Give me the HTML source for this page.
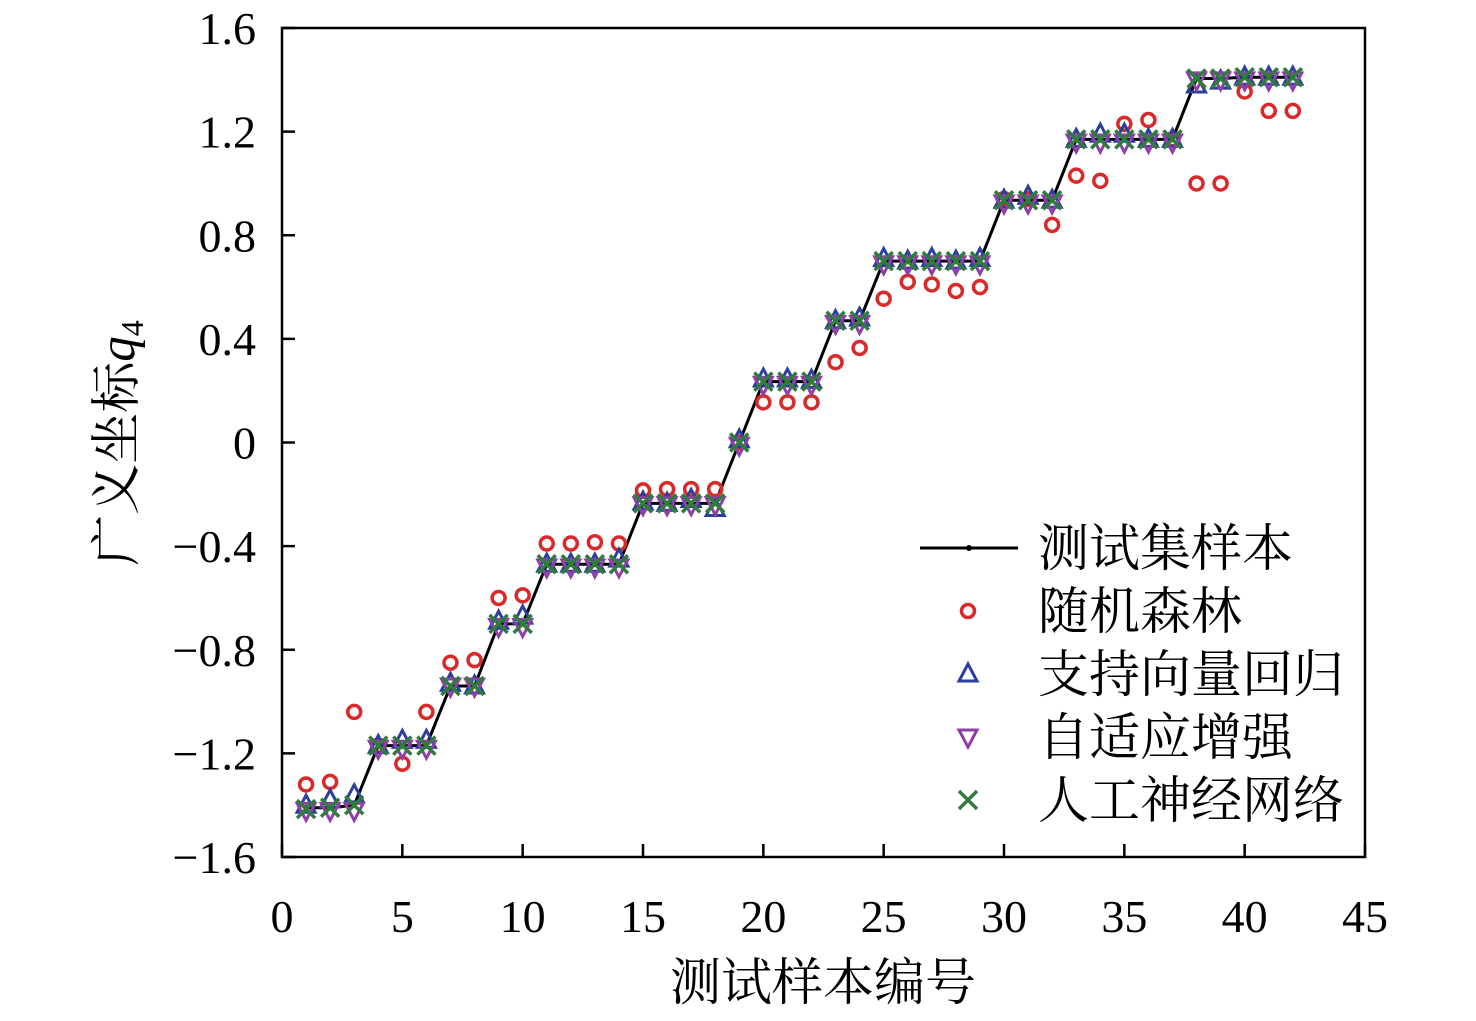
<!DOCTYPE html>
<html><head><meta charset="utf-8"><style>
body{margin:0;background:#fff}
</style></head><body>
<svg id="c" width="1476" height="1016" xmlns="http://www.w3.org/2000/svg"></svg>
<script>
const samples=[1,2,3,4,5,6,7,8,9,10,11,12,13,14,15,16,17,18,19,20,21,22,23,24,25,26,27,28,29,30,31,32,33,34,35,36,37,38,39,40,41,42];
const testVals=[-1.41,-1.41,-1.40,-1.17,-1.17,-1.17,-0.94,-0.94,-0.70,-0.70,-0.47,-0.47,-0.47,-0.47,-0.235,-0.235,-0.235,-0.235,0,0.235,0.235,0.235,0.47,0.47,0.70,0.70,0.70,0.70,0.70,0.935,0.935,0.935,1.17,1.17,1.17,1.17,1.17,1.405,1.405,1.41,1.41,1.41];
const rfVals=[-1.32,-1.31,-1.04,-1.17,-1.24,-1.04,-0.85,-0.84,-0.60,-0.59,-0.39,-0.39,-0.385,-0.39,-0.185,-0.18,-0.18,-0.18,0,0.155,0.155,0.155,0.31,0.365,0.555,0.62,0.61,0.585,0.60,0.94,0.94,0.84,1.03,1.01,1.23,1.245,1.17,1.0,1.0,1.355,1.28,1.28];
const svrVals=[-1.40,-1.38,-1.36,-1.17,-1.15,-1.15,-0.93,-0.94,-0.69,-0.67,-0.47,-0.47,-0.47,-0.45,-0.23,-0.235,-0.22,-0.255,0.01,0.245,0.245,0.24,0.47,0.48,0.71,0.70,0.71,0.70,0.71,0.935,0.95,0.935,1.17,1.19,1.19,1.17,1.17,1.38,1.395,1.41,1.41,1.41];
const adaVals=[-1.42,-1.42,-1.42,-1.18,-1.18,-1.18,-0.94,-0.94,-0.71,-0.71,-0.48,-0.48,-0.48,-0.48,-0.24,-0.24,-0.24,-0.24,-0.01,0.225,0.225,0.225,0.46,0.46,0.69,0.69,0.69,0.69,0.69,0.925,0.925,0.925,1.16,1.16,1.16,1.16,1.16,1.40,1.40,1.40,1.40,1.40];
const annVals=[-1.415,-1.41,-1.40,-1.17,-1.17,-1.17,-0.94,-0.94,-0.70,-0.70,-0.47,-0.47,-0.47,-0.47,-0.235,-0.235,-0.235,-0.235,0,0.235,0.235,0.235,0.47,0.47,0.70,0.70,0.70,0.70,0.70,0.935,0.935,0.935,1.17,1.17,1.17,1.17,1.17,1.405,1.405,1.41,1.41,1.41];
const xTicks=[0,5,10,15,20,25,30,35,40,45];
const yTicks=[-1.6,-1.2,-0.8,-0.4,0,0.4,0.8,1.2,1.6];
const yTickLabels=["−1.6","−1.2","−0.8","−0.4","0","0.4","0.8","1.2","1.6"];

const FF='"Liberation Serif","DejaVu Serif","Noto Serif CJK SC",serif';
const L=282,R=1365,T=28,B=857;
const X=v=>L+(v-0)/45*(R-L);
const Y=v=>B-(v+1.6)/3.2*(B-T);
const svg=document.getElementById('c');const NS='http://www.w3.org/2000/svg';
function mk(tag,attrs,parent){const e=document.createElementNS(NS,tag);for(const k in attrs)e.setAttribute(k,attrs[k]);(parent||svg).appendChild(e);return e;}

let fr=mk('rect',{x:L,y:T,width:R-L,height:B-T,fill:'none',stroke:'#000','stroke-width':2.5});


xTicks.forEach(t=>{
  const x=X(t);
  const l=mk('line',{x1:x,x2:x,y1:B,y2:B-13,stroke:'#000','stroke-width':2.5});
  
  
  const tx=mk('text',{x:x,y:B+75,'font-size':46,'text-anchor':'middle','font-family':FF});tx.textContent=t;
  
  
});
yTicks.forEach((t,i)=>{
  const y=Y(t);
  const l=mk('line',{x1:L,x2:L+13,y1:y,y2:y,stroke:'#000','stroke-width':2.5});
  
  
  const tx=mk('text',{x:L-26,y:y+16,'font-size':46,'text-anchor':'end','font-family':FF});tx.textContent=yTickLabels[i];
  
  
});
const xt=mk('text',{x:823,y:1000,'font-size':51,'text-anchor':'middle','font-family':FF});xt.textContent='测试样本编号';


const yt=mk('text',{x:0,y:0,'font-size':51,'text-anchor':'middle','font-family':FF,transform:'translate(134,443) rotate(-90)'});
yt.innerHTML='广义坐标<tspan font-style="italic">q</tspan><tspan font-size="32" dy="9">4</tspan>';



function circle(x,y,g){mk('circle',{cx:x,cy:y,r:6.5,fill:'none',stroke:'#d92a2a','stroke-width':3.5},g);}
function tri(x,y,g){mk('polygon',{points:`${x},${y-10} ${x-9},${y+7} ${x+9},${y+7}`,fill:'none',stroke:'#2b3f9e','stroke-width':3},g);}
function itri(x,y,g){mk('polygon',{points:`${x},${y+10} ${x-9},${y-7} ${x+9},${y-7}`,fill:'none',stroke:'#8e3fa8','stroke-width':3},g);}
function cross(x,y,g){mk('path',{d:`M${x-9},${y-9}L${x+9},${y+9}M${x+9},${y-9}L${x-9},${y+9}`,stroke:'#2f7d3a','stroke-width':3.5},g);}

let tg=mk('g',{});
mk('polyline',{points:samples.map((s,i)=>X(s)+','+Y(testVals[i])).join(' '),fill:'none',stroke:'#000','stroke-width':3},tg);
samples.forEach((s,i)=>mk('circle',{cx:X(s),cy:Y(testVals[i]),r:2.5,fill:'#000'},tg));

const series=[['series-random-forest',rfVals,circle],['series-svr',svrVals,tri],['series-adaboost',adaVals,itri],['series-ann',annVals,cross]];
series.forEach(([n,vals,f])=>{
  const g=mk('g',{});
  
  
  samples.forEach((s,i)=>f(X(s),Y(vals[i]),g));
});

const lg=mk('g',{});
const names=['测试集样本','随机森林','支持向量回归','自适应增强','人工神经网络'];
const fns=[null,circle,tri,itri,cross];
names.forEach((nm,i)=>{
  const y=548+i*63;
  const e=mk('g',{},lg);
  
  
  if(i===0){mk('line',{x1:920,x2:1018,y1:y,y2:y,stroke:'#000','stroke-width':3},e);mk('circle',{cx:969,cy:y,r:3,fill:'#000'},e);}
  else fns[i](968,y,e);
  const t=mk('text',{x:1038,y:y+18,'font-size':51,'font-family':FF},e);t.textContent=nm;
});
</script>
</body></html>
